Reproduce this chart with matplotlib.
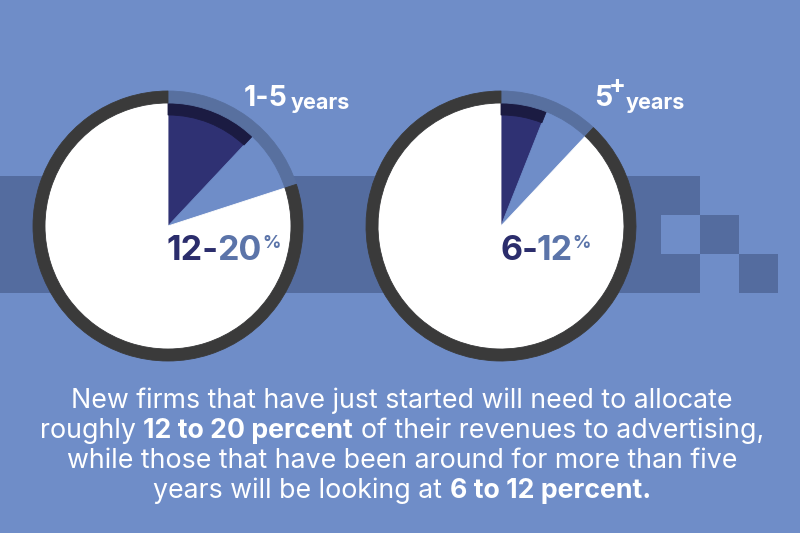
import matplotlib
matplotlib.use("Agg")
import matplotlib.pyplot as plt
from matplotlib.patches import Rectangle

# ---------------- data ----------------
age_groups = ["1-5", "5"]              # big label numerals
age_suffix = ["", "+"]                 # superscript after numeral
age_unit = ["years", "years"]
share_low = [12, 6]                    # % of revenue, low end
share_high = [20, 12]                  # % of revenue, high end

body_lines = [
    [("New firms that have just started will need to allocate", False)],
    [("roughly", False), ("12 to 20 percent", True), ("of their revenues to advertising,", False)],
    [("while those that have been around for more than five", False)],
    [("years will be looking at", False), ("6 to 12 percent.", True)],
]

# ---------------- style ----------------
W, H = 800, 533
BG = "#6f8dc8"
BAND = "#546c9f"
RING = "#3a3a3a"
RING_MUTED = "#58709f"
NAVY = "#2f3173"
NAVY_DARK = "#1b1b42"
TXT_NAVY = "#2b2d6c"
TXT_MUTED = "#5b74a9"
FONT = ["Inter", "DejaVu Sans"]

centers = [(168, 226), (501, 226)]     # pixel coords (y down)
R_OUT, RING_W = 135, 12
R_IN = R_OUT - RING_W
BAND_W = 12


def Y(yp):
    return H - yp


fig = plt.figure(figsize=(W / 100, H / 100), dpi=100, facecolor=BG)
ax = fig.add_axes([0, 0, 1, 1])
ax.set_facecolor(BG)

# background band with checker steps
top, s = 176, 39
band_rects = [(0, top, 661, 3 * s), (661, top, s, s), (661, top + 2 * s, s, s),
              (700, top + s, s, s), (739, top + 2 * s, s, s)]
for x0, y0, w, h in band_rects:
    ax.add_patch(Rectangle((x0, Y(y0 + h)), w, h, facecolor=BAND, edgecolor="none", zorder=0))


def seal(wedges, z):
    for w in wedges:
        fc = w.get_facecolor()
        if fc[3] > 0:
            w.set_edgecolor(fc)
            w.set_linewidth(0.6)
        else:
            w.set_linewidth(0)
        w.set_zorder(z)


for i, (cx, cy) in enumerate(centers):
    lo, hi = share_low[i], share_high[i]
    c = (cx, Y(cy))
    common = dict(startangle=90, counterclock=False, center=c, frame=True)
    # interior slices
    w1, _ = ax.pie([lo, hi - lo, 100 - hi], radius=R_IN, colors=[NAVY, BG, "white"], **common)
    # darker rim of the low slice
    w2, _ = ax.pie([lo, 100 - lo], radius=R_IN, colors=[NAVY_DARK, "none"],
                   wedgeprops=dict(width=BAND_W), **common)
    # outer ring
    w3, _ = ax.pie([hi, 100 - hi], radius=R_OUT, colors=[RING_MUTED, RING],
                   wedgeprops=dict(width=RING_W), **common)
    seal(w1, 2)
    seal(w2, 3)
    seal(w3, 4)

ax.set_xlim(0, W)
ax.set_ylim(0, H)
ax.set_aspect("equal")
ax.axis("off")

fig.canvas.draw()
rend = fig.canvas.get_renderer()


def width_of(txt, **kw):
    t = ax.text(0, 0, txt, **kw)
    w = t.get_window_extent(rend).width
    t.remove()
    return w


def run_line(runs, x, yb, align="left", gaps=0.0):
    """runs: list of (text, kw, dy); gaps: scalar or list of gaps between runs"""
    if not isinstance(gaps, (list, tuple)):
        gaps = [gaps] * (len(runs) - 1)
    ws = [width_of(t, family=FONT, **kw) for t, kw, dy in runs]
    total = sum(ws) + sum(gaps)
    xs = x - total / 2 if align == "center" else x
    for k, ((t, kw, dy), w) in enumerate(zip(runs, ws)):
        ax.text(xs, Y(yb) + dy, t, ha="left", va="baseline", family=FONT, zorder=6, **kw)
        xs += w + (gaps[k] if k < len(gaps) else 0)


# percentage labels inside pies
big, small = 24.5, 13
for i, (cx, cy) in enumerate(centers):
    lo, hi = share_low[i], share_high[i]
    raise_px = 0.73 * (big - small) * 100 / 72
    run_line([(f"{lo}-", dict(fontsize=big, weight="bold", color=TXT_NAVY), 0),
              (f"{hi}", dict(fontsize=big, weight="bold", color=TXT_MUTED), 0),
              ("%", dict(fontsize=small, weight="bold", color=TXT_MUTED), raise_px)],
             cx - 1, 260, gaps=[-2, 0.5])

# age labels
run_line([(age_groups[0], dict(fontsize=20.5, weight="bold", color="white"), 0),
          (age_unit[0], dict(fontsize=15.5, weight="bold", color="white"), -3)],
         244, 106, gaps=[3])
run_line([(age_groups[1], dict(fontsize=20.5, weight="bold", color="white"), 0),
          (age_suffix[1], dict(fontsize=18, weight="bold", color="white"), 13),
          (age_unit[1], dict(fontsize=15.5, weight="bold", color="white"), -3)],
         594, 106, gaps=[-3, 0])

# body text, fitted to reference line width
target = 663
w_ref = width_of(body_lines[0][0][0], family=FONT, fontsize=16)
fs = 16 * target / w_ref
space = width_of("a a", family=FONT, fontsize=fs) - width_of("aa", family=FONT, fontsize=fs)
baselines = [408, 438, 468, 498]
for line, yb in zip(body_lines, baselines):
    runs = [(t, dict(fontsize=fs, weight="bold" if b else "normal", color="white"), 0) for t, b in line]
    run_line(runs, 402, yb, align="center", gaps=space)

fig.savefig("out.png", dpi=100, facecolor=BG)
